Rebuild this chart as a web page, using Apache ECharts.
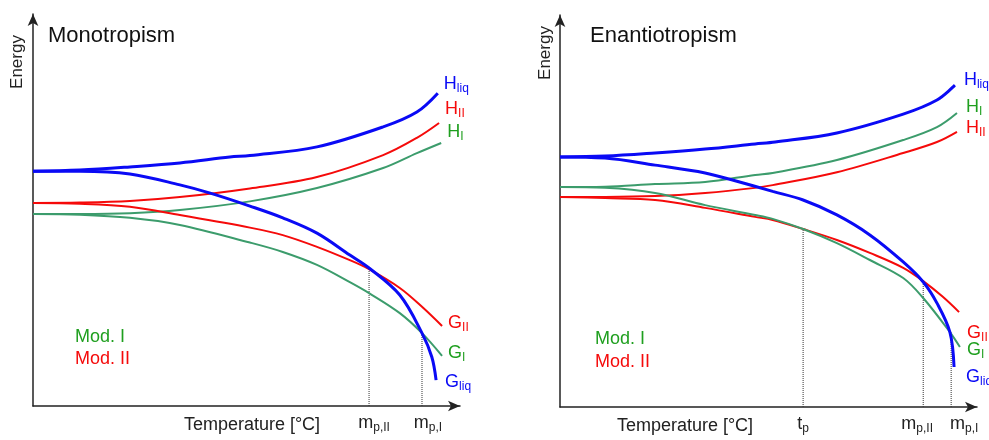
<!DOCTYPE html>
<html>
<head>
<meta charset="utf-8">
<script src="https://cdn.jsdelivr.net/npm/echarts@6/dist/echarts.min.js"></script>
<style>
  html, body { margin: 0; padding: 0; background: #fff; }
  #main { width: 989px; height: 440px; }
</style>
</head>
<body>
<div id="main"></div>
<script>
// monotropism panel (x: temperature 0-100, y: energy 0-100)
var monoHliq = [[0,59.9],[11,60.2],[22.7,61.0],[34.4,62.0],[46.1,63.5],[50.8,63.9],[66.5,66.1],[82,71.2],[89.9,75.0],[94.8,79.8]];
var monoHII  = [[0,51.8],[11,51.9],[22.7,52.3],[34.4,53.3],[50.8,55.5],[66.5,58.4],[82,64.0],[89.9,68.4],[95.1,72.2]];
var monoHI   = [[0,49.0],[11,49.0],[22.7,49.2],[34.4,50.0],[50.8,52.2],[66.5,55.6],[82,60.7],[89.9,64.5],[95.6,67.1]];
var monoGII  = [[0,51.8],[11,51.6],[22.7,50.8],[34.4,48.7],[50.8,45.5],[58.5,43.6],[66.5,40.6],[74.2,37.2],[78.7,34.9],[85.9,30.1],[91.1,25.3],[95.8,20.4]];
var monoGI   = [[0,49.0],[11,48.8],[22.7,48.0],[34.4,46.2],[50.8,41.7],[58.5,39.3],[66.5,36.0],[74.2,31.6],[78.7,28.8],[85.9,23.7],[91.1,18.6],[95.8,12.8]];
var monoGliq = [[0,59.9],[11,59.9],[22.7,59.2],[34.4,56.4],[41.5,54.3],[50.8,51.0],[58.5,48.0],[66.5,44.1],[74.2,38.5],[78.7,35.2],[85.9,28.3],[91.1,18.6],[93.4,12.5],[94.4,6.6]];
var monoDrops = [[78.7,35.0],[91.1,18.6]];
var monoTicks = [78.7, 91.1];
var monoTickText = [['m','p,II'],['m','p,I']];

// enantiotropism panel
var enanHliq = [[0,63.8],[10.8,64.0],[22.8,64.8],[34.8,65.8],[46.8,67.1],[51.6,67.6],[66.4,69.9],[82.3,74.7],[90.4,78.3],[94.7,82.1]];
var enanHI   = [[0,56.1],[10.8,56.2],[22.8,56.9],[34.8,57.4],[46.8,59.2],[51,59.7],[66.4,63.0],[82.3,68.1],[90.4,71.4],[95.2,75.0]];
var enanHII  = [[0,53.6],[10.8,53.6],[22.8,53.8],[34.8,54.6],[46.8,55.9],[51,56.6],[66.4,59.9],[82.3,64.8],[90.4,67.6],[95.2,70.2]];
var enanGII  = [[0,53.6],[10.8,53.3],[22.8,52.8],[34.8,50.8],[46.8,48.5],[51,47.7],[58.3,45.4],[66.4,42.6],[74.3,39.3],[82.3,35.5],[87.1,32.1],[91.8,28.1],[95.7,24.2]];
var enanGI   = [[0,56.1],[10.8,55.9],[22.8,54.6],[34.8,51.5],[46.8,49.0],[51,48.0],[58.3,45.4],[66.4,41.8],[74.3,37.5],[82.3,32.9],[87.1,27.8],[93.5,19.1],[95.9,15.3]];
var enanGliq = [[0,63.8],[10.8,63.5],[22.8,61.7],[34.8,59.7],[42,57.7],[51,55.0],[58.3,52.8],[66.4,49.0],[74.3,43.9],[82.3,37.0],[87.1,31.9],[90.4,26.5],[93.5,19.1],[94.5,10.2]];
var enanDrops = [[58.3,45.4],[87.1,32.0],[93.8,19.0]];
var enanTicks = [58.3, 87.1, 93.8];
var enanTickText = [['t','p'],['m','p,II'],['m','p,I']];

var BLUE = '#0a0af5', RED = '#f50a0a', GREEN_LINE = '#3c9c6c', GREEN_TEXT = '#1f9f1f';
var FONT = 'Liberation Sans, Arial, sans-serif';

var myChart = echarts.init(document.getElementById('main'));

function sub(color, big) {
    return {
        b: { fontSize: big, color: color, fontFamily: FONT },
        s: { fontSize: Math.round(big * 0.65), color: color, fontFamily: FONT, padding: [Math.round(big * 0.5), 0, 0, 0] }
    };
}

function curve(grid, name, data, color, width, textColor, main, subTxt, offset) {
    return {
        type: 'line', name: name, xAxisIndex: grid, yAxisIndex: grid,
        data: data, smooth: 0.35, showSymbol: false, symbol: 'none',
        lineStyle: { color: color, width: width },
        silent: true, z: 3,
        endLabel: {
            show: true, distance: 6, offset: offset,
            formatter: '{b|' + main + '}{s|' + subTxt + '}',
            rich: sub(textColor, 18)
        }
    };
}

function drops(grid, pts) {
    return pts.map(function (p) {
        return {
            type: 'line', xAxisIndex: grid, yAxisIndex: grid, silent: true, z: 1,
            data: [[p[0], 0], p], showSymbol: false, symbol: 'none',
            lineStyle: { color: '#333', width: 1, type: [1, 1] }
        };
    });
}

// shifts: horizontal nudge of each tick label relative to its drop line
// namePad == null -> a label-only overlay axis
function xAx(grid, ticks, texts, shifts, namePad) {
    var rich = sub('#222', 18);
    shifts.forEach(function (s, i) { rich['g' + i] = { width: Math.abs(s) * 2 }; });
    var ax = {
        type: 'value', gridIndex: grid, position: 'bottom', offset: 0, min: 0, max: 100,
        splitLine: { show: false }, axisTick: { show: false },
        axisLine: { show: namePad != null, lineStyle: { color: '#222', width: 1.5 }, symbol: ['none', 'arrow'], symbolSize: [8, 12] },
        axisLabel: {
            customValues: ticks, margin: 7, hideOverlap: false,
            showMinLabel: true, showMaxLabel: true,
            formatter: function (v) {
                var i = ticks.indexOf(v);
                if (i < 0) return '';
                var t = '{b|' + texts[i][0] + '}{s|' + texts[i][1] + '}';
                var pad = '{g' + i + '| }';
                return shifts[i] >= 0 ? pad + t : t + pad;
            },
            rich: rich
        }
    };
    if (namePad != null) {
        ax.name = 'Temperature [°C]';
        ax.nameLocation = 'middle';
        ax.nameGap = 10;
        ax.nameMoveOverlap = false;
        ax.nameTextStyle = { fontSize: 18, color: '#222', fontFamily: FONT, padding: namePad, verticalAlign: 'top' };
    }
    return ax;
}

function yAx(grid) {
    return {
        type: 'value', gridIndex: grid, min: 0, max: 100,
        splitLine: { show: false }, axisTick: { show: false }, axisLabel: { show: false },
        axisLine: { lineStyle: { color: '#222', width: 1.5 }, symbol: ['none', 'arrow'], symbolSize: [8, 12] }
    };
}

function txt(x, y, s, size, color, rot) {
    return {
        type: 'text', x: x, y: y, rotation: rot || 0,
        style: { text: s, fontSize: size, fill: color, fontFamily: FONT, align: rot ? 'center' : 'left', verticalAlign: 'middle' }
    };
}

var option = {
    animation: false,
    backgroundColor: '#fff',
    grid: [
        { left: 33, top: 14, width: 427, height: 392, outerBoundsMode: 'none', containLabel: false },
        { left: 560, top: 15, width: 417, height: 392, outerBoundsMode: 'none', containLabel: false }
    ],
    xAxis: [
        xAx(0, monoTicks, monoTickText, [5, 6], [0, 0, 0, 11]),
        xAx(1, enanTicks.slice(0, 2), enanTickText.slice(0, 2), [0, -6], [0, 167, 0, 0]),
        // last label sits close to its neighbour, so it goes on an overlay axis
        xAx(1, enanTicks.slice(2), enanTickText.slice(2), [13], null)
    ],
    yAxis: [yAx(0), yAx(1)],
    graphic: [
        txt(48, 36, 'Monotropism', 22, '#111'),
        txt(590, 36, 'Enantiotropism', 22, '#111'),
        txt(17, 62, 'Energy', 17, '#222', Math.PI / 2),
        txt(545, 53, 'Energy', 17, '#222', Math.PI / 2),
        txt(75, 337, 'Mod. I', 18, GREEN_TEXT),
        txt(75, 359, 'Mod. II', 18, RED),
        txt(595, 339, 'Mod. I', 18, GREEN_TEXT),
        txt(595, 362, 'Mod. II', 18, RED)
    ],
    series: [].concat(
        drops(0, monoDrops),
        drops(1, enanDrops),
        [
            curve(0, 'H_liq', monoHliq, BLUE, 3, BLUE, 'H', 'liq', [0, -9]),
            curve(0, 'H_II', monoHII, RED, 2, RED, 'H', 'II', [0, -14]),
            curve(0, 'H_I', monoHI, GREEN_LINE, 2, GREEN_TEXT, 'H', 'I', [0, -11]),
            curve(0, 'G_II', monoGII, RED, 2, RED, 'G', 'II', [0, -3]),
            curve(0, 'G_I', monoGI, GREEN_LINE, 2, GREEN_TEXT, 'G', 'I', [0, -3]),
            curve(0, 'G_liq', monoGliq, BLUE, 3, BLUE, 'G', 'liq', [3, 2]),
            curve(1, 'H_liq', enanHliq, BLUE, 3, BLUE, 'H', 'liq', [3, -5]),
            curve(1, 'H_I', enanHI, GREEN_LINE, 2, GREEN_TEXT, 'H', 'I', [3, -6]),
            curve(1, 'H_II', enanHII, RED, 2, RED, 'H', 'II', [3, -4]),
            curve(1, 'G_II', enanGII, RED, 2, RED, 'G', 'II', [2, 21]),
            curve(1, 'G_I', enanGI, GREEN_LINE, 2, GREEN_TEXT, 'G', 'I', [1, 3]),
            curve(1, 'G_liq', enanGliq, BLUE, 3, BLUE, 'G', 'liq', [6, 10])
        ]
    )
};
myChart.setOption(option);
</script>
</body>
</html>
